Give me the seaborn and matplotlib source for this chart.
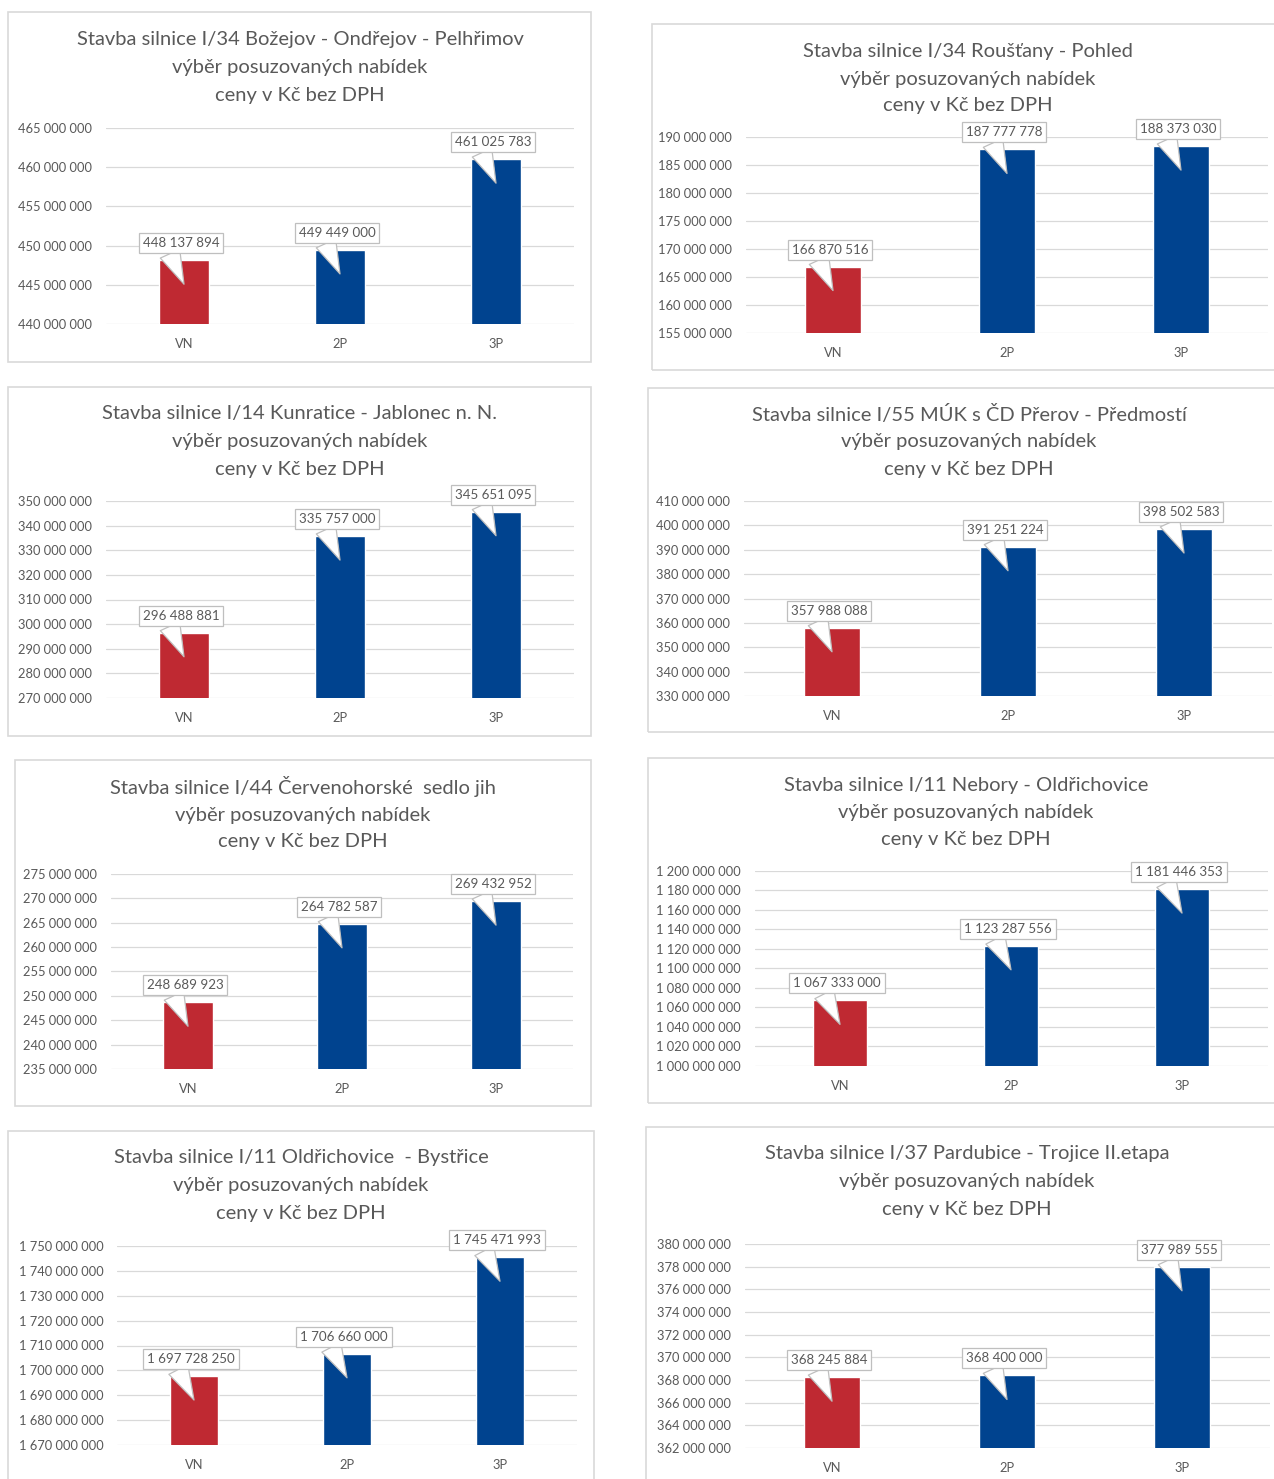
import matplotlib
matplotlib.use('Agg')
import matplotlib.pyplot as plt
import matplotlib.transforms as mtransforms
from matplotlib.patches import Rectangle
import numpy as np
import pandas as pd
import seaborn as sns

sns.set_theme(style='white')
plt.rcParams['font.family'] = ['Lato', 'DejaVu Sans']

# ---------------- data ----------------
categories = ['VN', '2P', '3P']
subtitle_1 = 'výběr posuzovaných nabídek'
subtitle_2 = 'ceny v Kč bez DPH'

titles = [
    'Stavba silnice I/34 Božejov - Ondřejov - Pelhřimov',
    'Stavba silnice I/34 Roušťany - Pohled',
    'Stavba silnice I/14 Kunratice - Jablonec n. N.',
    'Stavba silnice I/55 MÚK s ČD Přerov - Předmostí',
    'Stavba silnice I/44 Červenohorské  sedlo jih',
    'Stavba silnice I/11 Nebory - Oldřichovice',
    'Stavba silnice I/11 Oldřichovice  - Bystřice',
    'Stavba silnice I/37 Pardubice - Trojice II.etapa',
]

values_1 = [448137894, 449449000, 461025783]
values_2 = [166870516, 187777778, 188373030]
values_3 = [296488881, 335757000, 345651095]
values_4 = [357988088, 391251224, 398502583]
values_5 = [248689923, 264782587, 269432952]
values_6 = [1067333000, 1123287556, 1181446353]
values_7 = [1697728250, 1706660000, 1745471993]
values_8 = [368245884, 368400000, 377989555]
all_values = [values_1, values_2, values_3, values_4,
              values_5, values_6, values_7, values_8]

y_min = [440e6, 155e6, 270e6, 330e6, 235e6, 1000e6, 1670e6, 362e6]
y_max = [465e6, 190e6, 350e6, 410e6, 275e6, 1200e6, 1750e6, 380e6]
y_step = [5e6, 5e6, 10e6, 10e6, 5e6, 20e6, 10e6, 2e6]

# ---------------- layout (pixels) ----------------
W, H = 1274, 1479
# axes: (left, right, top, bottom)
axes_px = [
    (106, 574, 128, 324),
    (746, 1268, 137, 333),
    (106, 574, 501, 698),
    (744, 1272, 501, 696),
    (111, 573, 874, 1069),
    (754.5, 1267.5, 871, 1066),
    (117.5, 576.5, 1246, 1445),
    (744.5, 1269.5, 1244, 1448),
]
title_px = [
    (300, (40, 67, 95)),
    (968, (51, 79, 105)),
    (300, (414, 441, 469)),
    (969, (414, 441, 469)),
    (303, (787, 815, 842)),
    (966, (785, 812, 839)),
    (301, (1158, 1186, 1213)),
    (967, (1153, 1182, 1210)),
]
frame_px = [
    (8, 12, 591, 362),
    (652, 24, 1290, 370),
    (8, 387, 591, 736),
    (648, 388, 1290, 732),
    (15, 760, 591, 1106),
    (648, 758, 1290, 1103),
    (8, 1131, 594, 1490),
    (646, 1127, 1290, 1490),
]

RED = '#BF2932'
BLUE = '#00438F'
TEXT = '#595959'
GRID = '#D9D9D9'
palette = {'VN': RED, '2P': BLUE, '3P': BLUE}

fig = plt.figure(figsize=(W / 100, H / 100), dpi=100)
fig.patch.set_facecolor('white')

for k in range(8):
    x0, y0, x1, y1 = frame_px[k]
    fig.patches.append(Rectangle((x0 / W, 1 - y1 / H), (x1 - x0) / W, (y1 - y0) / H,
                                 transform=fig.transFigure, fill=False,
                                 ec=GRID, lw=1.2, zorder=0))

    l, r, t, b = axes_px[k]
    ax = fig.add_axes([l / W, 1 - b / H, (r - l) / W, (b - t) / H])
    df = pd.DataFrame({'cat': categories, 'val': all_values[k]})
    sns.barplot(data=df, x='cat', y='val', hue='cat', palette=palette,
                order=categories, width=0.32, legend=False, ax=ax,
                saturation=1, zorder=3)
    ax.set_xlim(-0.5, 2.5)
    ax.set_ylim(y_min[k], y_max[k])
    ticks = np.arange(y_min[k], y_max[k] + y_step[k] / 2, y_step[k])
    ax.set_yticks(ticks)
    ax.set_yticklabels([f'{v:,.0f}'.replace(',', ' ') for v in ticks])
    ax.set_xlabel('')
    ax.set_ylabel('')
    ax.grid(axis='y', color=GRID, lw=0.9, zorder=0)
    ax.set_axisbelow(True)
    for s in ax.spines.values():
        s.set_visible(False)
    ax.tick_params(axis='y', length=0, pad=10, labelsize=9.3, labelcolor=TEXT)
    ax.tick_params(axis='x', length=0, pad=10, labelsize=9.3, labelcolor=TEXT)

    tip = mtransforms.offset_copy(ax.transData, fig=fig, x=0, y=-24, units='dots')
    for i, v in enumerate(all_values[k]):
        ax.annotate(f'{v:,.0f}'.replace(',', ' '), xy=(i, v), xycoords=tip,
                    xytext=(-3, 41), textcoords='offset pixels',
                    ha='center', va='center', fontsize=9.6, color=TEXT,
                    bbox=dict(boxstyle='square,pad=0.3', fc='white',
                              ec='#BFBFBF', lw=0.9),
                    arrowprops=dict(arrowstyle='wedge,tail_width=1.6,shrink_factor=0.5',
                                    fc='white', ec='#BFBFBF', lw=0.9,
                                    relpos=(0.33, 0.0), shrinkA=0, shrinkB=0),
                    annotation_clip=False, zorder=6)

    cx, ys = title_px[k]
    for line, yy in zip([titles[k], subtitle_1, subtitle_2], ys):
        fig.text(cx / W, 1 - yy / H, line, ha='center', va='center',
                 fontsize=14.5, color=TEXT)

fig.savefig('out.png', dpi=100, facecolor='white')
